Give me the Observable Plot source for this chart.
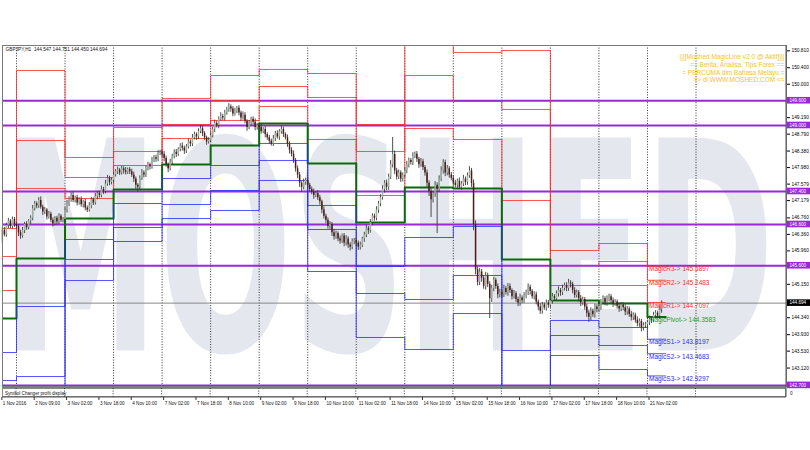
<!DOCTYPE html>
<html><head><meta charset="utf-8">
<script src="https://cdn.jsdelivr.net/npm/d3@7"></script>
<script src="https://cdn.jsdelivr.net/npm/@observablehq/plot@0.6"></script>
<style>body{margin:0;background:#fff;}#chart{position:absolute;left:0;top:0;}</style>
</head><body><div id="chart"></div>
<script>
// ---------- DATA ----------
const headerText = "GBPJPY,H1  144.547 144.751 144.450 144.694";
const infoLines = ["|||[Moshed MagicLine v2.0 @ Aktif]|||", "== Berita, Analisa, Tips Forex ==", "= PERCUMA dlm Bahasa Melayu =", "=> di WWW.MOSHED.COM <="];
const watermark = "MOSHED";
const subWindowText = "Symbol Changer profit display";

// hourly closes, bar 0 = first visible bar
const firstOpen = 146.20;
const closes = [
146.45,146.35,146.58,146.68,146.55,146.72,146.60,
146.55,146.40,146.32,146.45,146.60,146.52,146.68,146.75,146.98,147.10,147.05,147.18,147.02,146.90,146.95,146.78,146.85,146.70,146.62,146.75,146.66,146.80,146.70,146.72,
146.95,147.10,147.22,147.30,147.18,147.25,147.12,147.20,147.08,147.15,147.00,146.95,147.05,147.20,147.12,147.28,147.35,147.30,147.45,147.40,147.58,147.72,147.62,147.67,
147.80,147.88,147.92,147.85,147.95,147.90,147.86,147.93,147.88,147.80,147.70,147.55,147.50,147.72,147.85,147.80,147.95,148.05,148.00,148.15,148.22,148.18,148.32,148.35,
148.30,148.20,148.05,147.95,148.10,148.25,148.35,148.30,148.42,148.50,148.45,148.38,148.48,148.60,148.55,148.70,148.78,148.72,148.85,148.92,148.80,148.70,148.60,148.64,
148.75,148.90,149.05,149.00,149.15,149.22,149.18,149.30,149.38,149.45,149.40,149.28,149.35,149.42,149.30,149.18,149.25,149.10,148.95,149.05,149.15,149.08,148.95,149.00,
148.95,148.85,148.90,148.78,148.70,148.62,148.55,148.68,148.80,148.72,148.85,148.90,148.78,148.70,148.55,148.40,148.30,148.15,147.95,147.80,147.60,147.50,147.62,147.67,
147.55,147.45,147.38,147.30,147.35,147.25,147.15,146.95,146.80,146.70,146.55,146.60,146.40,146.30,146.38,146.25,146.20,146.32,146.15,146.25,146.10,146.05,146.18,146.21,
146.15,146.05,146.10,146.25,146.35,146.50,146.45,146.65,146.80,146.75,146.95,147.10,147.25,147.45,147.60,147.50,147.75,148.05,148.30,147.90,147.75,147.85,147.70,147.79,
147.90,148.05,148.15,148.10,148.25,148.30,148.18,148.05,148.12,147.98,147.85,147.60,147.40,147.20,147.35,147.55,147.45,147.70,147.90,148.10,147.85,147.95,147.80,147.72,
147.60,147.55,147.65,147.50,147.58,147.70,147.62,147.78,147.90,147.60,146.60,145.50,145.20,145.45,145.30,145.10,145.35,145.15,144.80,145.05,145.25,145.10,144.90,144.95,
144.90,145.05,144.95,145.10,145.00,144.85,144.92,144.78,144.70,144.82,144.75,144.88,144.95,145.08,144.98,144.85,144.90,144.72,144.60,144.50,144.65,144.58,144.70,144.64,
144.75,144.85,144.80,144.92,145.00,144.95,145.05,145.12,145.05,145.18,145.15,145.00,144.88,144.95,144.80,144.70,144.78,144.60,144.45,144.35,144.50,144.42,144.60,144.54,
144.60,144.72,144.80,144.70,144.78,144.85,144.75,144.68,144.72,144.62,144.55,144.65,144.58,144.48,144.55,144.42,144.35,144.40,144.28,144.20,144.25,144.10,144.15,144.17,
144.22,144.30,144.28,144.40,144.45,144.38,144.55,144.69
];
// upper / lower wick lengths in pips (0.01)
const wickUp = [
6,8,5,7,4,6,5,
5,4,6,8,5,7,4,6,8,6,5,7,9,5,6,4,7,5,6,4,5,6,4,5,
6,8,5,7,9,4,6,5,7,4,6,5,8,6,4,7,5,6,8,5,9,7,5,6,
6,5,7,4,6,5,8,4,5,6,7,5,4,6,8,5,7,6,4,8,5,6,7,5,
5,7,6,4,8,5,6,7,4,6,8,5,6,7,5,8,6,4,7,9,6,5,4,6,
7,6,8,5,6,9,5,7,6,8,5,6,7,4,6,5,8,6,4,7,5,6,8,5,
6,8,5,7,4,6,5,8,6,7,5,9,6,4,7,5,6,8,5,7,6,4,8,5,
7,5,6,8,5,7,6,4,8,5,6,7,5,8,6,4,7,5,6,8,5,6,7,5,
6,5,7,4,6,8,5,7,6,5,8,6,7,9,6,8,7,10,41,8,6,7,5,6,
7,8,6,5,9,6,7,5,8,6,5,7,6,8,5,9,6,8,10,7,6,8,5,6,
6,7,5,8,6,9,5,7,10,6,8,9,7,8,6,5,9,7,6,8,7,5,6,8,
6,8,5,7,6,4,8,5,6,9,5,7,6,8,5,4,7,6,5,8,6,5,7,6,
6,8,5,7,9,5,8,6,7,9,6,5,7,6,5,8,6,5,7,6,8,5,7,6,
8,6,7,5,9,6,5,7,6,5,8,6,5,7,6,5,7,6,5,8,6,5,7,6,
6,8,5,7,6,5,8,6
];
const wickDn = [
7,5,6,8,5,6,7,
6,9,8,5,7,6,5,8,6,5,7,6,5,8,6,7,5,6,8,5,7,6,5,6,
5,7,6,8,5,6,7,5,6,8,7,6,5,7,6,5,8,6,5,7,6,5,8,6,
6,5,7,6,5,8,6,5,7,6,8,10,12,6,5,7,6,5,8,6,5,7,6,5,
7,8,6,9,5,7,6,8,5,6,7,8,6,5,7,6,5,8,6,5,7,6,8,5,
6,5,7,6,8,5,6,7,5,6,8,7,5,6,7,8,5,6,9,5,6,7,8,6,
7,6,5,8,6,7,5,6,7,5,8,6,7,5,8,9,6,7,8,9,10,12,6,7,
8,7,6,9,5,7,8,9,7,8,6,7,9,8,6,7,8,6,9,7,8,9,6,7,
9,8,7,6,8,7,9,6,8,7,6,8,7,6,9,8,7,6,8,9,7,6,8,7,
6,7,8,6,7,5,8,9,6,7,8,10,12,43,8,9,107,7,6,8,9,7,8,6,
7,6,8,5,7,6,8,7,6,10,15,12,9,8,10,7,9,8,48,9,8,7,10,8,
8,7,6,9,7,8,6,7,9,8,7,6,8,7,9,6,8,7,9,8,7,6,8,7,
7,8,6,7,8,9,7,6,8,7,9,8,7,6,8,9,7,8,10,12,8,7,9,8,
7,8,6,7,8,6,7,9,6,7,8,6,7,9,8,7,9,8,7,8,9,10,8,7,
9,7,8,6,9,7,8,10
];

// daily MagicLine levels (one value per day, first bar of each day)
const dayStarts = [0, 7, 31, 55, 79, 103, 127, 151, 175, 199, 223, 247, 271, 295, 319];
const levelEndBar = 328;
const levelR3 = [146.503,150.333,148.224,148.952,149.655,150.212,150.358,150.261,149.024,151.715,150.770,150.818,145.970,146.139,145.5897];
const levelR2 = [145.824,148.636,147.739,148.370,149.024,149.606,149.945,149.679,148.370,150.212,149.582,149.388,145.606,145.703,145.2483];
const levelR1 = [145.000,147.473,147.230,148.030,148.685,149.121,149.461,148.661,147.303,148.927,148.661,147.182,145.121,145.121,144.7097];
const levelP  = [144.321,145.776,146.745,147.448,148.055,148.515,149.048,148.079,146.648,147.497,147.473,145.752,144.758,144.685,144.3583];
const levelS1 = [143.497,144.612,146.236,147.109,147.715,148.030,148.564,147.061,145.582,146.285,146.552,143.545,144.273,144.103,143.8197];
const levelS2 = [142.818,142.915,145.752,146.527,147.085,147.424,148.152,146.479,144.927,144.782,145.364,142.115,143.909,143.667,143.4683];
const levelS3 = [141.994,141.752,145.242,146.188,146.745,146.939,147.667,145.461,143.861,143.570,144.442,139.910,143.424,143.085,142.9297];
const levelNames = ["MagicR3","MagicR2","MagicR1","MagicPivot","MagicS1","MagicS2","MagicS3"];

// horizontal round-number levels and bid
const roundLevels = [149.600, 149.000, 147.400, 146.600, 145.600, 142.700];
const bidPrice = 144.694;

// axes
const yTickLabels = ["150.810","150.400","150.000","149.190","148.790","148.380","147.980","147.579","147.179","146.760","146.360","145.960","145.150","144.340","143.930","143.530","143.120"];
const separatorBars = [7,31,55,79,103,127,151,175,199,223,247,271,295,319,343];
const xTickBars = [0,16,32,48,64,80,96,112,128,144,160,176,192,208,224,240,256,272,288,304,320];
const xTickLabels = ["1 Nov 2016","2 Nov 09:00","3 Nov 02:00","3 Nov 18:00","4 Nov 10:00","7 Nov 02:00","7 Nov 18:00","8 Nov 10:00","9 Nov 02:00","9 Nov 18:00","10 Nov 10:00","11 Nov 02:00","11 Nov 18:00","14 Nov 10:00","15 Nov 02:00","15 Nov 18:00","16 Nov 10:00","17 Nov 02:00","17 Nov 18:00","18 Nov 10:00","21 Nov 02:00"];

// ---------- BUILD ----------
const FONT = "Liberation Sans, Arial, sans-serif";
const bars = closes.map((c, i) => {
  const o = i === 0 ? firstOpen : closes[i - 1];
  return {i, o, c, h: Math.max(o, c) + wickUp[i] / 100, l: Math.min(o, c) - wickDn[i] / 100};
});
const levelSets = [levelR3, levelR2, levelR1, levelP, levelS1, levelS2, levelS3];
const levelColors = ["#ff2a2a","#ff2a2a","#ff2a2a","#0a6a0a","#2a2aff","#2a2aff","#2a2aff"];
const labelColors = ["#ff2a2a","#ff2a2a","#ff2a2a","#2a9a2a","#2a2aff","#2a2aff","#2a2aff"];
const levelMarks = levelSets.map((arr, k) => {
  const pts = dayStarts.map((s, d) => ({x: s, y: arr[d]}));
  pts.push({x: levelEndBar, y: arr[arr.length - 1]});
  return Plot.line(pts, {x: "x", y: "y", curve: "step-after", stroke: levelColors[k],
    strokeWidth: k === 3 ? 2 : 1, strokeOpacity: k === 3 ? 1 : 0.8, clip: true});
});
const currentLabels = levelSets.map((arr, k) => ({name: levelNames[k], v: arr[arr.length - 1], k}));
const yTicks = yTickLabels.map(Number);

const plot = Plot.plot({
  width: 810, height: 450,
  marginTop: 45, marginBottom: 64, marginLeft: 2, marginRight: 24,
  x: {domain: [0.08, 387.75], axis: null},
  y: {domain: [142.673, 150.939]},
  style: {background: "#fff", fontFamily: FONT},
  marks: [
    Plot.text([watermark], {frameAnchor: "left", textAnchor: "start", fontSize: 292, fontWeight: 700,
      fontFamily: "DejaVu Sans", fill: "#e4e7ee", dx: 0, dy: 41, lineAnchor: "middle"}),
    Plot.ruleX(separatorBars, {stroke: "#333", strokeDasharray: "1,1.6", strokeWidth: 1}),
    Plot.ruleY(roundLevels, {stroke: "#9a28d8", strokeWidth: 2}),
    Plot.ruleY([bidPrice], {stroke: "#8a8a8a", strokeWidth: 1}),
    ...levelMarks,
    Plot.ruleX(bars, {x: "i", y1: "l", y2: "h", stroke: "#3a3a3a", strokeWidth: 0.9}),
    Plot.ruleX(bars, {x: "i", y1: "o", y2: "c", stroke: d => d.c >= d.o ? "#9fb39f" : "#4d1c1c", strokeWidth: 1.5}),
    Plot.text(currentLabels, {x: () => dayStarts[dayStarts.length - 1], y: "v", text: d => `${d.name}-> ${d.v.toFixed(4)}`,
      fill: d => labelColors[d.k], textAnchor: "start", lineAnchor: "top", dx: 1.5, dy: 0.5, fontSize: 6.5}),
    Plot.text([infoLines.join("\n")], {frameAnchor: "top-right", textAnchor: "end", lineAnchor: "top", dx: -2, dy: 8,
      lineHeight: 1.2, fill: "#f5c41e", fontSize: 6.5}),
    Plot.text([headerText], {frameAnchor: "top-left", textAnchor: "start", lineAnchor: "top", dx: 3, dy: 2.5, fontSize: 4.8, fill: "#111"}),
    Plot.axisY(yTicks, {anchor: "right", tickSize: 3, tickPadding: 2, fontSize: 4.8,
      tickFormat: d => yTickLabels[yTicks.indexOf(d)]}),
    Plot.frame({stroke: "#7a7a7a"})
  ]
});
document.getElementById("chart").appendChild(plot);

// ---------- DECORATIONS ----------
const svg = d3.select(plot);
const xs = plot.scale("x"), ys = plot.scale("y");
const L = 2, R = 786, mainBottom = 386, subTop = 388, subBottom = 397;
const addText = (x, y, size, fill, str) => svg.append("text").attr("x", x).attr("y", y)
  .attr("text-anchor", "start").style("font-family", FONT).attr("font-size", size).attr("fill", fill).text(str);

// compress the watermark to its width in the reference
svg.selectAll("text").filter(function() { return this.textContent === watermark; })
  .attr("textLength", 772).attr("lengthAdjust", "spacingAndGlyphs");

// splitter + sub-window
svg.append("rect").attr("x", L).attr("y", mainBottom).attr("width", R - L).attr("height", 2).attr("fill", "#7d7d7d");
svg.append("rect").attr("x", L + 0.5).attr("y", subTop + 0.5).attr("width", R - L - 1).attr("height", subBottom - subTop - 1)
  .attr("fill", "#fff").attr("stroke", "#8a8a8a");
separatorBars.forEach(b => {
  svg.append("line").attr("x1", xs.apply(b)).attr("x2", xs.apply(b)).attr("y1", subTop).attr("y2", subBottom)
    .attr("stroke", "#333").attr("stroke-dasharray", "1,1.6");
});
addText(5, 394.6, 4.6, "#111", subWindowText);
svg.append("line").attr("x1", R).attr("x2", R).attr("y1", 45).attr("y2", subBottom).attr("stroke", "#555");
svg.append("line").attr("x1", L).attr("x2", R).attr("y1", subBottom).attr("y2", subBottom).attr("stroke", "#555");
addText(790, 394.6, 4.6, "#111", "0");

// date axis
xTickBars.forEach((b, k) => {
  const x = xs.apply(b);
  svg.append("line").attr("x1", x).attr("x2", x).attr("y1", subBottom).attr("y2", subBottom + 3).attr("stroke", "#333");
  addText(x + 1, 404.5, 4.6, "#111", xTickLabels[k]);
});

// price boxes on right axis
function priceBox(v, fill, label) {
  const y = ys.apply(v);
  svg.append("rect").attr("x", R + 1).attr("y", y - 3.3).attr("width", 810 - R - 1).attr("height", 6.6).attr("fill", fill);
  addText(R + 3.5, y + 1.7, 4.6, "#fff", label);
}
roundLevels.forEach(v => priceBox(v, "#9a28d8", v.toFixed(3)));
priceBox(bidPrice, "#000", bidPrice.toFixed(3));
</script>
</body></html>
